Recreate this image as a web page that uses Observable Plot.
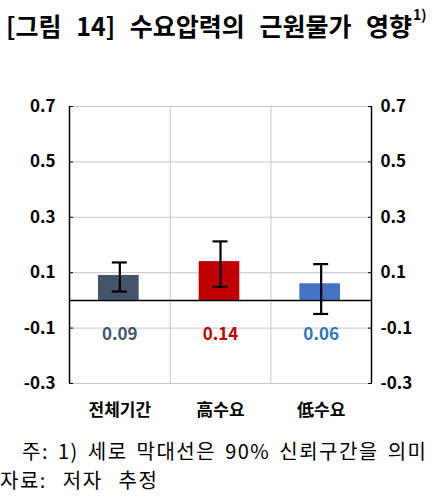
<!DOCTYPE html>
<html><head><meta charset="utf-8">
<script src="https://cdn.jsdelivr.net/npm/d3@7"></script>
<script src="https://cdn.jsdelivr.net/npm/@observablehq/plot@0.6"></script>
<style>
body{margin:0;background:#fff;font-family:"Noto Sans CJK KR","Noto Sans",sans-serif;color:#000}
#wrap{position:relative;width:438px;height:500px;overflow:hidden}
#title{position:absolute;left:6px;top:0;height:50px;line-height:50px;font-size:25px;font-weight:bold;word-spacing:9px;white-space:nowrap}
#title sup{font-size:14px;vertical-align:top;position:relative;top:-11px;margin-left:1px}
#chart{position:absolute;left:0;top:50px}
.note{position:absolute;font-size:20px;line-height:24px;height:24px;white-space:nowrap;letter-spacing:1.5px}
#note1{left:22px;top:439px;word-spacing:3px}
#note2{left:0;top:468px;word-spacing:10px}
</style>
</head><body>
<div id="wrap">
<div id="title">[그림 14] 수요압력의 근원물가 영향<sup>1)</sup></div>
<div id="chart"></div>
<div class="note" id="note1">주: 1) 세로 막대선은 90% 신뢰구간을 의미</div>
<div class="note" id="note2">자료: 저자 추정</div>
</div>
<script>
const categories = ["전체기간", "高수요", "低수요"];
const values = [0.09, 0.14, 0.06];
const lower = [0.032, 0.049, -0.049];
const upper = [0.137, 0.213, 0.131];
const barColors = ["#44546A", "#C00000", "#4472C4"];
const labelColors = ["#44546A", "#C00000", "#2E75B6"];
const yTicks = [-0.3, -0.1, 0.1, 0.3, 0.5, 0.7];

const data = categories.map((c, i) => ({
  cat: c, i, value: values[i], lo: lower[i], hi: upper[i],
  color: barColors[i], labelColor: labelColors[i], label: values[i].toFixed(2)
}));
const font = "'Noto Sans CJK KR', 'Noto Sans', sans-serif";
const fmt = d => d.toFixed(1);

const chart = Plot.plot({
  width: 438, height: 385,
  marginLeft: 69, marginRight: 67, marginTop: 56, marginBottom: 52,
  x: {domain: [0, categories.length], axis: null},
  y: {domain: [-0.3, 0.7], axis: null},
  color: {type: "identity"},
  style: {fontFamily: font, background: "#fff"},
  marks: [
    Plot.ruleY(yTicks, {stroke: "#c6c6c6", strokeWidth: 1}),
    Plot.ruleX(d3.range(1, categories.length), {stroke: "#c6c6c6", strokeWidth: 1}),
    Plot.rectY(data, {x1: "i", x2: d => d.i + 1, y: "value", fill: "color", insetLeft: 29, insetRight: 31}),
    Plot.ruleY([0], {stroke: "#000", strokeWidth: 1.5}),
    Plot.ruleX(data, {x: d => d.i + 0.5, y1: "lo", y2: "hi", stroke: "#000", strokeWidth: 2.2}),
    Plot.ruleY(data, {y: "hi", x1: d => d.i + 0.5, x2: d => d.i + 0.5, insetLeft: -7.5, insetRight: -7.5, stroke: "#000", strokeWidth: 2.2}),
    Plot.ruleY(data, {y: "lo", x1: d => d.i + 0.5, x2: d => d.i + 0.5, insetLeft: -7.5, insetRight: -7.5, stroke: "#000", strokeWidth: 2.2}),
    Plot.ruleX([0, categories.length], {stroke: "#000", strokeWidth: 1.5}),
    Plot.axisY(yTicks, {anchor: "left", tickSize: -4, tickPadding: 18, tickFormat: fmt, fontSize: 17, fontWeight: "bold", stroke: "#000", fill: "#000"}),
    Plot.axisY(yTicks, {anchor: "right", tickSize: -4, tickPadding: 13, tickFormat: fmt, fontSize: 17, fontWeight: "bold", stroke: "#000", fill: "#000"}),
    Plot.text(data, {x: d => d.i + 0.5, y: 0, dy: 34, text: "label", fill: "labelColor", fontSize: 17, fontWeight: "bold"}),
    Plot.text(data, {x: d => d.i + 0.5, frameAnchor: "bottom", dy: 32, text: "cat", fill: "#000", fontSize: 17, fontWeight: "bold"})
  ]
});
document.getElementById("chart").appendChild(chart);
</script>
</body></html>
